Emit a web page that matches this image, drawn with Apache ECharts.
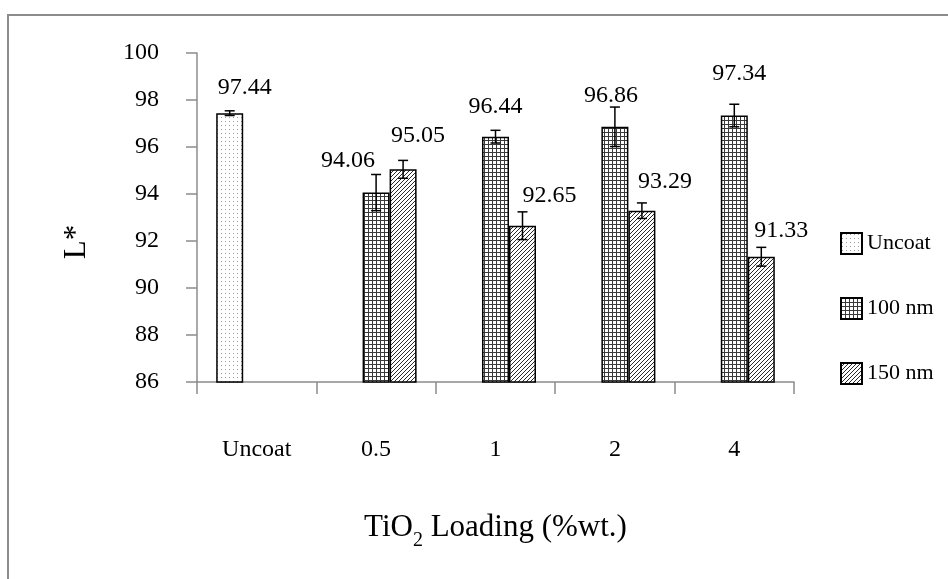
<!DOCTYPE html>
<html>
<head>
<meta charset="utf-8">
<script src="https://cdn.jsdelivr.net/npm/echarts@6/dist/echarts.min.js"></script>
<style>
  html, body { margin: 0; padding: 0; background: #fff; }
  #chart { width: 948px; height: 579px; }
</style>
</head>
<body>
<div id="chart"></div>
<script>
// ---- data ----
const categories = ['Uncoat', '0.5', '1', '2', '4'];
const seriesNames = ['Uncoat', '100 nm', '150 nm'];
const uncoatValues = [97.44, null, null, null, null];
const nm100Values = [null, 94.06, 96.44, 96.86, 97.34];
const nm150Values = [null, 95.05, 92.65, 93.29, 91.33];
const uncoatErrors = [0.10, null, null, null, null];
const nm100Errors = [null, 0.77, 0.27, 0.84, 0.48];
const nm150Errors = [null, 0.38, 0.59, 0.33, 0.40];
const yMin = 86, yMax = 100, yStep = 2;

// ---- label nudges (placement only) ----
const labelNudges = [
  [[15, -13], null, null, null, null],
  [null, [-28, -20], [0, -18], [-4, -19], [5, -30]],
  [null, [15, -22], [27, -18], [23, -17], [20, -14]]
];

const FONT = '"Liberation Serif", "DejaVu Serif", serif';
const BAR_W = 27;

function makePattern(kind) {
  const c = document.createElement('canvas');
  const ctx = c.getContext('2d');
  if (kind === 'dots') {
    c.width = 4; c.height = 4;
    ctx.fillStyle = '#ffffff'; ctx.fillRect(0, 0, 4, 4);
    ctx.fillStyle = '#9a9a9a'; ctx.fillRect(1, 1, 1, 1);
  } else if (kind === 'grid') {
    c.width = 4; c.height = 4;
    ctx.fillStyle = '#ffffff'; ctx.fillRect(0, 0, 4, 4);
    ctx.fillStyle = '#3a3a3a';
    ctx.fillRect(0, 0, 4, 1);
    ctx.fillRect(0, 0, 1, 4);
  } else {
    c.width = 4; c.height = 4;
    ctx.fillStyle = '#ffffff'; ctx.fillRect(0, 0, 4, 4);
    ctx.fillStyle = '#2a2a2a';
    for (let i = 0; i < 4; i++) ctx.fillRect(i, 3 - i, 1, 1);
  }
  return { image: c, repeat: 'repeat' };
}

const patterns = [makePattern('dots'), makePattern('grid'), makePattern('diag')];
const allValues = [uncoatValues, nm100Values, nm150Values];
const allErrors = [uncoatErrors, nm100Errors, nm150Errors];

const barSeries = allValues.map(function (vals, s) {
  return {
    name: seriesNames[s],
    type: 'bar',
    barWidth: BAR_W,
    barGap: '0%',
    itemStyle: { color: patterns[s], borderColor: '#000', borderWidth: 1.5 },
    data: vals.map(function (v, i) {
      if (v === null) return null;
      const n = labelNudges[s][i] || [0, -12];
      return {
        value: v,
        label: {
          show: true, position: 'top', distance: 0, offset: n,
          formatter: function (p) { return Number(p.value).toFixed(2); },
          fontFamily: FONT, fontSize: 24, lineHeight: 24, color: '#000'
        }
      };
    })
  };
});

const errData = [];
allValues.forEach(function (vals, s) {
  vals.forEach(function (v, i) {
    if (v !== null && allErrors[s][i] !== null) errData.push([i, v, allErrors[s][i], s]);
  });
});

const errSeries = {
  type: 'custom',
  z: 10,
  silent: true,
  encode: { x: 0, y: 1 },
  data: errData,
  renderItem: function (params, api) {
    const i = api.value(0), v = api.value(1), e = api.value(2), slot = api.value(3);
    const top = api.coord([i, v + e]);
    const bot = api.coord([i, v - e]);
    const x = top[0] + (slot - 1) * BAR_W;
    const hw = 5;
    const st = { stroke: '#000', lineWidth: 1.5 };
    return {
      type: 'group',
      children: [
        { type: 'line', shape: { x1: x, y1: top[1], x2: x, y2: bot[1] }, style: st },
        { type: 'line', shape: { x1: x - hw, y1: top[1], x2: x + hw, y2: top[1] }, style: st },
        { type: 'line', shape: { x1: x - hw, y1: bot[1], x2: x + hw, y2: bot[1] }, style: st }
      ]
    };
  }
};

const chart = echarts.init(document.getElementById('chart'), null, { renderer: 'canvas' });
chart.setOption({
  animation: false,
  backgroundColor: '#ffffff',
  grid: { left: 197, right: 154, top: 53, bottom: 197, containLabel: false },
  legend: {
    data: seriesNames,
    orient: 'vertical',
    left: 835, top: 227,
    itemWidth: 21, itemHeight: 21, itemGap: 42,
    icon: 'rect',
    textStyle: { fontFamily: FONT, fontSize: 22, color: '#000', padding: [0, 0, 0, 0] }
  },
  xAxis: {
    type: 'category',
    data: categories,
    axisLine: { lineStyle: { color: '#8c8c8c', width: 1.5 } },
    axisTick: { show: true, inside: false, length: 12, alignWithLabel: false, lineStyle: { color: '#8c8c8c', width: 1.5 } },
    axisLabel: { margin: 56, fontFamily: FONT, fontSize: 24, color: '#000' },
    name: 'TiO{sub|2} Loading (%wt.)',
    nameLocation: 'middle',
    nameGap: 128,
    nameTextStyle: {
      fontFamily: FONT, fontSize: 31, color: '#000', lineHeight: 36,
      rich: { sub: { fontFamily: FONT, fontSize: 20, color: '#000', padding: [26, 0, 0, 0] } }
    }
  },
  yAxis: {
    type: 'value',
    min: yMin, max: yMax, interval: yStep,
    axisLine: { show: true, lineStyle: { color: '#8c8c8c', width: 1.5 } },
    axisTick: { show: true, inside: false, length: 11, lineStyle: { color: '#8c8c8c', width: 1.5 } },
    axisLabel: { margin: 38, fontFamily: FONT, fontSize: 24, color: '#000' },
    splitLine: { show: false }
  },
  graphic: [
    {
      type: 'rect', silent: true, z: -10,
      shape: { x: 8, y: 15, width: 2000, height: 2000 },
      style: { fill: 'none', stroke: '#8c8c8c', lineWidth: 2 }
    },
    {
      type: 'text', silent: true,
      x: 77, y: 242, rotation: Math.PI / 2,
      style: { x: 0, y: 0, text: 'L*', fill: '#000', font: '31px ' + FONT, textAlign: 'center', textVerticalAlign: 'middle' }
    }
  ],
  series: barSeries.concat([errSeries])
});
</script>
</body>
</html>
